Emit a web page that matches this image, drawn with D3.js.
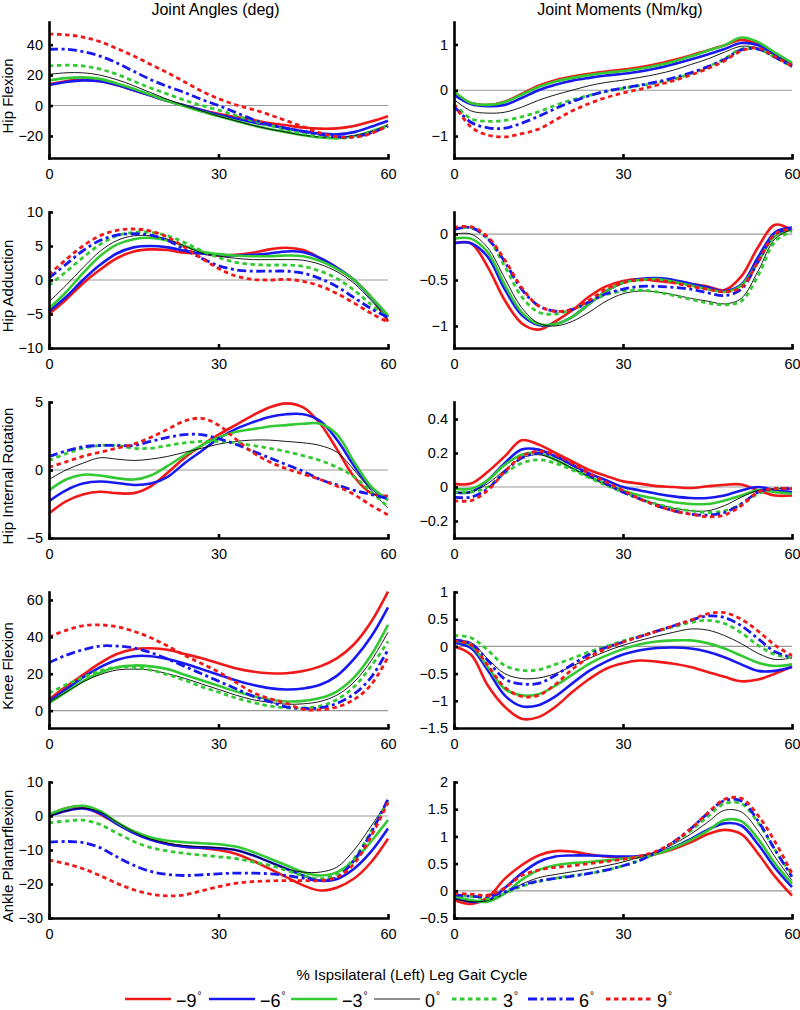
<!DOCTYPE html>
<html>
<head>
<meta charset="utf-8">
<script src="https://cdn.jsdelivr.net/npm/d3@7"></script>
<style>
  body { margin: 0; background: #fff; }
  text { font-family: "Liberation Sans", Arial, Helvetica, sans-serif; fill: #000; }
</style>
</head>
<body>
<div id="chart"></div>
<script>
// % of ipsilateral gait cycle where the curves were read
var pct = [0, 3, 6, 9, 12, 15, 18, 21, 24, 27, 30, 33, 36, 39, 42, 45, 48, 51, 54, 57, 60];

var conditions = ["\u22129", "\u22126", "\u22123", "0", "3", "6", "9"];
var rowNames = ["Hip Flexion", "Hip Adduction", "Hip Internal Rotation", "Knee Flexion", "Ankle Plantarflexion"];
var colTitles = ["Joint Angles (deg)", "Joint Moments (Nm/kg)"];
var xLabel = "% Ispsilateral (Left) Leg Gait Cycle";

var xTicks = [0, 30, 60];
var angleTicks = [[-20, 0, 20, 40], [-10, -5, 0, 5, 10], [-5, 0, 5], [0, 20, 40, 60], [-30, -20, -10, 0, 10]];
var momentTicks = [[-1, 0, 1], [-1, -0.5, 0], [-0.2, 0, 0.2, 0.4], [-1.5, -1, -0.5, 0, 0.5, 1], [-0.5, 0, 0.5, 1, 1.5, 2]];
var angleLimits = [[-34.5, 54.9], [-10, 10], [-5, 5], [-9.4, 64.3], [-30, 10]];
var momentLimits = [[-1.48, 1.49], [-1.24, 0.24], [-0.3, 0.5], [-1.5, 1], [-0.5, 2]];

// each panel: one row per condition, -9 .. 9
var hipFlexAngle = [
  [14, 16, 17, 16, 13.5, 10, 6.5, 3, 0, -3, -5.5, -7.5, -9.5, -11.5, -13, -14.5, -15.2, -15, -13.5, -10.5, -7],
  [13.5, 15.5, 16.5, 16, 13.5, 10, 6.5, 3, 0, -3, -6, -8.5, -11, -13, -15, -17, -18.5, -19, -17.5, -14, -10],
  [16.5, 18, 18.5, 17.5, 14.5, 11, 7, 3, -0.5, -4, -7, -10, -13, -15.5, -17.5, -19.5, -21, -21.5, -20, -17, -13],
  [20.5, 21.5, 21.5, 20, 17, 13, 8.5, 4, 0, -3.5, -7, -10, -13, -15.5, -17.5, -19.5, -20.8, -21, -19.8, -17, -13],
  [26, 26.5, 26, 24, 20.5, 16, 11.5, 7.5, 3.5, 0, -3, -6.5, -10, -13, -16, -18.5, -20.5, -21.5, -20.5, -17.5, -13.5],
  [37, 37, 35.5, 32.5, 28, 22.5, 17, 12.5, 8.5, 4, 0, -4.5, -9, -12.5, -15, -17, -19, -20.5, -20.5, -18, -13.5],
  [47, 46.5, 45, 42, 37.5, 32.5, 27, 21.5, 15.5, 9.5, 4.5, 0.5, -2.5, -6, -10, -14, -18, -20.5, -20.8, -18.5, -13]
];
var hipFlexMoment = [
  [-0.05, -0.28, -0.32, -0.25, -0.08, 0.1, 0.22, 0.3, 0.36, 0.41, 0.45, 0.5, 0.57, 0.66, 0.76, 0.87, 0.98, 1.1, 1.0, 0.8, 0.58],
  [-0.1, -0.3, -0.35, -0.32, -0.17, 0.0, 0.12, 0.21, 0.27, 0.32, 0.36, 0.41, 0.48, 0.57, 0.67, 0.78, 0.9, 1.03, 0.98, 0.78, 0.55],
  [-0.02, -0.28, -0.32, -0.26, -0.1, 0.07, 0.19, 0.27, 0.33, 0.38, 0.42, 0.47, 0.54, 0.63, 0.74, 0.86, 0.98, 1.15, 1.05, 0.82, 0.6],
  [-0.2, -0.45, -0.5, -0.48, -0.37, -0.22, -0.1, 0.0, 0.1, 0.17, 0.22, 0.28, 0.35, 0.44, 0.56, 0.68, 0.83, 0.96, 0.92, 0.75, 0.55],
  [-0.3, -0.62, -0.68, -0.66, -0.58, -0.47, -0.33, -0.21, -0.11, -0.03, 0.04, 0.1, 0.16, 0.24, 0.36, 0.5, 0.69, 0.9, 0.9, 0.72, 0.52],
  [-0.35, -0.7, -0.82, -0.83, -0.72, -0.57, -0.4, -0.25, -0.12, -0.02, 0.05, 0.11, 0.18, 0.27, 0.38, 0.51, 0.67, 0.88, 0.9, 0.72, 0.52],
  [-0.3, -0.8, -0.98, -1.02, -0.95, -0.85, -0.65, -0.45, -0.29, -0.16, -0.06, 0.02, 0.11, 0.21, 0.33, 0.47, 0.64, 0.86, 0.92, 0.73, 0.53]
];
var hipAddAngle = [
  [-5, -2.9, -0.5, 1.5, 3.2, 4.2, 4.5, 4.4, 4.0, 3.9, 3.6, 3.7, 4.0, 4.5, 4.75, 4.4, 3.2, 1.7, 0, -2.5, -6.1],
  [-4.6, -2.5, 0, 2.2, 3.9, 4.8, 5.0, 4.8, 4.3, 3.9, 3.7, 3.6, 3.7, 3.9, 4.2, 4.1, 3.2, 1.8, 0, -2.6, -5.4],
  [-4.2, -1.8, 1.0, 3.5, 5.2, 6.0, 6.2, 5.8, 5.0, 4.2, 3.8, 3.6, 3.5, 3.5, 3.6, 3.5, 2.8, 1.6, 0, -2.5, -5.2],
  [-3.2, -0.8, 1.8, 4.2, 5.8, 6.5, 6.5, 6.0, 5.0, 4.0, 3.5, 3.2, 3.0, 3.0, 3.0, 2.9, 2.3, 1.2, -0.5, -3.0, -5.8],
  [-0.8, 1.2, 3.3, 5.2, 6.5, 7.0, 7.0, 6.5, 5.5, 4.3, 3.3, 2.6, 2.3, 2.2, 2.2, 2.0, 1.3, 0.2, -1.5, -3.6, -5.5],
  [0.3, 2.3, 4.3, 5.8, 6.6, 6.8, 6.6, 5.8, 4.5, 3.2, 2.1, 1.5, 1.3, 1.3, 1.3, 1.0, 0.2, -1.0, -2.6, -4.2, -5.5],
  [0.8, 3.0, 5.0, 6.5, 7.3, 7.5, 7.2, 6.3, 4.8, 3.2, 1.7, 0.6, 0.1, 0.0, 0.1, -0.2, -0.9, -2.0, -3.4, -4.9, -6.2]
];
var hipAddMoment = [
  [-0.1, -0.1, -0.36, -0.72, -0.97, -1.04, -0.95, -0.83, -0.68, -0.57, -0.51, -0.49, -0.51, -0.53, -0.54, -0.57, -0.61, -0.46, -0.14, 0.1, 0.04],
  [-0.1, -0.1, -0.25, -0.6, -0.88, -0.99, -0.98, -0.9, -0.76, -0.62, -0.53, -0.49, -0.48, -0.5, -0.54, -0.58, -0.62, -0.55, -0.25, 0.02, 0.07],
  [-0.05, -0.05, -0.2, -0.55, -0.85, -0.98, -0.98, -0.9, -0.76, -0.62, -0.53, -0.5, -0.49, -0.52, -0.56, -0.6, -0.63, -0.56, -0.3, -0.02, 0.05],
  [0, 0, -0.15, -0.48, -0.8, -0.97, -1.0, -0.95, -0.85, -0.73, -0.65, -0.62, -0.63, -0.66, -0.7, -0.73, -0.76, -0.7, -0.4, -0.05, 0.05],
  [0.05, 0.07, -0.05, -0.35, -0.68, -0.85, -0.87, -0.82, -0.74, -0.66, -0.62, -0.61, -0.63, -0.67, -0.71, -0.75, -0.77, -0.73, -0.45, -0.08, 0.03],
  [0.05, 0.07, -0.05, -0.3, -0.6, -0.78, -0.84, -0.82, -0.74, -0.65, -0.6, -0.57, -0.57, -0.58, -0.6, -0.64, -0.67, -0.6, -0.3, 0.0, 0.06],
  [0.07, 0.08, -0.03, -0.28, -0.58, -0.78, -0.84, -0.82, -0.72, -0.6, -0.53, -0.5, -0.5, -0.53, -0.57, -0.6, -0.63, -0.58, -0.3, 0.0, 0.06]
];
var hipRotAngle = [
  [-3.2, -2.3, -1.8, -1.6, -1.7, -1.7, -1.2, -0.2, 0.9, 1.8, 2.6, 3.3, 4.0, 4.6, 4.9, 4.6, 3.4, 1.5, -0.5, -1.7, -1.9],
  [-2.3, -1.5, -1.0, -0.85, -0.95, -1.1, -1.0, -0.5, 0.5, 1.4, 2.3, 3.0, 3.5, 3.9, 4.1, 4.1, 3.6, 2.2, 0.3, -1.3, -2.2],
  [-1.5, -0.7, -0.35, -0.4, -0.6, -0.7, -0.4, 0.3, 1.1, 1.8, 2.4, 2.8, 3.0, 3.2, 3.3, 3.4, 3.4, 2.6, 0.6, -1.2, -2.2],
  [-0.7, 0.0, 0.5, 0.9, 0.8, 0.7, 0.8, 1.0, 1.3, 1.6, 1.9, 2.1, 2.2, 2.2, 2.1, 2.0, 1.8, 1.3, 0.0, -1.5, -2.8],
  [0.7, 1.2, 1.6, 1.8, 1.8, 1.6, 1.6, 1.8, 2.0, 2.1, 2.1, 2.0, 1.8, 1.6, 1.35, 1.05, 0.7, 0.2, -0.5, -1.6, -2.7],
  [1.0, 1.4, 1.7, 1.8, 1.8, 1.8, 2.1, 2.4, 2.6, 2.6, 2.3, 1.9, 1.4, 0.9, 0.4, -0.1, -0.7, -1.1, -1.5, -1.8, -2.1],
  [0.2, 0.6, 1.0, 1.3, 1.6, 1.9, 2.4, 3.0, 3.6, 3.8, 3.3, 2.3, 1.3, 0.6, 0.1, -0.3, -0.7, -1.2, -1.8, -2.6, -3.3]
];
var hipRotMoment = [
  [0.02, 0.02, 0.09, 0.18, 0.275, 0.25, 0.2, 0.15, 0.1, 0.065, 0.033, 0.02, 0.005, 0.0, -0.006, 0.004, 0.013, 0.015, -0.02, -0.05, -0.05],
  [-0.03, -0.03, 0.04, 0.14, 0.22, 0.22, 0.18, 0.13, 0.08, 0.04, 0.0, -0.02, -0.04, -0.055, -0.065, -0.065, -0.05, -0.02, 0.0, -0.02, -0.03],
  [-0.01, -0.01, 0.04, 0.13, 0.19, 0.2, 0.16, 0.11, 0.06, 0.02, -0.02, -0.05, -0.07, -0.09, -0.1, -0.1, -0.08, -0.05, -0.02, -0.03, -0.04],
  [-0.03, -0.03, 0.02, 0.1, 0.17, 0.19, 0.16, 0.11, 0.06, 0.01, -0.03, -0.07, -0.1, -0.125, -0.14, -0.14, -0.11, -0.06, -0.02, -0.01, -0.01],
  [-0.03, -0.03, 0.0, 0.08, 0.14, 0.16, 0.14, 0.1, 0.055, 0.01, -0.03, -0.07, -0.1, -0.125, -0.14, -0.15, -0.14, -0.1, -0.04, -0.01, -0.01],
  [-0.06, -0.06, -0.01, 0.09, 0.17, 0.2, 0.18, 0.13, 0.07, 0.02, -0.03, -0.07, -0.11, -0.14, -0.16, -0.165, -0.15, -0.1, -0.03, -0.01, -0.01],
  [-0.08, -0.08, -0.02, 0.09, 0.18, 0.21, 0.19, 0.14, 0.08, 0.03, -0.02, -0.07, -0.11, -0.14, -0.16, -0.175, -0.165, -0.11, -0.03, -0.01, -0.01]
];
var kneeAngle = [
  [6, 13, 19.4, 25.7, 30.7, 33.3, 33.8, 33, 30.7, 28.4, 25.7, 23, 21.2, 20.3, 20.3, 21.5, 24, 28.5, 36, 48, 64.5],
  [5, 11.5, 18, 23.5, 27.5, 29.5, 29.5, 28, 25.5, 22.5, 19.5, 16.5, 14, 12.2, 11.5, 12, 14, 19, 28, 40, 56],
  [4, 10, 16, 20.5, 23.5, 24.5, 24, 22.5, 19.5, 16.5, 13.5, 10.5, 8, 6, 5, 5.3, 6.8, 10.5, 18, 30, 46.5],
  [4.5, 10, 15.5, 19.5, 22, 22.5, 22, 20, 17.5, 14.5, 11.5, 8.5, 6, 4.5, 3.5, 3.7, 5, 8.5, 15.5, 27, 42.5],
  [9.5, 14, 18, 21.5, 23.5, 23.5, 22, 19.5, 16.5, 13, 10, 7, 4.5, 2.5, 1.5, 1.5, 2.5, 6, 13, 24, 37.5],
  [26, 30, 33, 35, 35, 34, 31.5, 28, 24, 20, 16, 12, 8, 5, 2, 1.2, 1.5, 4, 9, 18, 33],
  [40, 43.5, 46, 46.5, 45.5, 43, 39.5, 35, 30, 25.5, 21, 15.5, 10, 6.5, 4, 0.7, 0.5, 2, 6, 14, 29]
];
var kneeMoment = [
  [0, -0.15, -0.72, -1.11, -1.33, -1.3, -1.11, -0.84, -0.6, -0.41, -0.31, -0.26, -0.28, -0.32, -0.38, -0.47, -0.56, -0.64, -0.61, -0.5, -0.37],
  [0.07, -0.03, -0.44, -0.9, -1.1, -1.08, -0.92, -0.68, -0.45, -0.28, -0.15, -0.07, -0.03, -0.02, -0.04, -0.1, -0.2, -0.33, -0.45, -0.45, -0.38],
  [0.1, 0.02, -0.38, -0.78, -0.9, -0.88, -0.72, -0.52, -0.32, -0.17, -0.05, 0.04, 0.09, 0.11, 0.11, 0.06, -0.04, -0.17, -0.3, -0.36, -0.33],
  [0.12, 0.07, -0.23, -0.5, -0.59, -0.58, -0.5, -0.36, -0.22, -0.09, 0.02, 0.11, 0.19, 0.26, 0.32, 0.3, 0.2, 0.05, -0.13, -0.24, -0.21],
  [0.2, 0.16, -0.07, -0.35, -0.44, -0.43, -0.33, -0.22, -0.1, 0.0, 0.1, 0.19, 0.28, 0.36, 0.44, 0.48, 0.42, 0.25, 0.02, -0.15, -0.21],
  [0.12, 0.05, -0.26, -0.6, -0.69, -0.68, -0.53, -0.33, -0.15, -0.02, 0.08, 0.18, 0.28, 0.38, 0.48, 0.56, 0.53, 0.38, 0.14, -0.1, -0.2],
  [0.1, 0.03, -0.35, -0.75, -0.92, -0.9, -0.7, -0.42, -0.2, -0.04, 0.08, 0.18, 0.28, 0.38, 0.48, 0.6, 0.62, 0.5, 0.28, 0.02, -0.17]
];
var ankleAngle = [
  [0.3, 2.3, 2.6, 0.6, -2.3, -4.8, -6.7, -8.2, -9, -9.4, -10, -11.1, -13.1, -15.5, -18, -20.4, -21.9, -21, -18.4, -13.6, -6.7],
  [0, 1.5, 2.2, 0.8, -2.3, -5, -7, -8.3, -9, -9.3, -9.5, -10, -11.5, -13.5, -15.5, -17.5, -19, -18.5, -15.5, -10.5, -3.7],
  [0.5, 2.3, 3, 1.5, -1.8, -4.5, -6.3, -7.3, -7.7, -8, -8.3, -9, -10.5, -12.5, -14.5, -16.5, -17.5, -16.5, -13, -7.5, -1.2],
  [0, 1.5, 2.3, 1.2, -1.8, -4.7, -6.8, -8, -8.7, -9, -9.3, -10, -11.5, -13.5, -15.5, -16.5, -16.5, -15, -10, -3, 4.5],
  [-2, -1.5, -1.2, -2.5, -5, -7.5, -9.3, -10.3, -11, -11.5, -12, -12.5, -13.5, -14.5, -16, -17.5, -18.5, -17, -12.5, -4.5, 4.5],
  [-7.7, -7.5, -7.8, -9.3, -12, -14.5, -16.3, -17.2, -17.5, -17.3, -17, -16.8, -16.8, -17, -17.5, -18.3, -19, -18, -13, -5, 5],
  [-13, -14, -15.5, -17.5, -19.8, -21.7, -23, -23.5, -23.2, -22, -20.8, -19.8, -19.3, -19.1, -19, -19, -19, -18, -14, -6, 4]
];
var ankleMoment = [
  [-0.17, -0.24, -0.12, 0.22, 0.47, 0.65, 0.73, 0.72, 0.67, 0.63, 0.62, 0.62, 0.68, 0.77, 0.89, 1.04, 1.12, 1.04, 0.68, 0.26, -0.09],
  [-0.12, -0.2, -0.18, 0.05, 0.32, 0.53, 0.63, 0.65, 0.65, 0.64, 0.63, 0.64, 0.7, 0.8, 0.95, 1.12, 1.24, 1.2, 0.85, 0.42, 0.07],
  [-0.1, -0.17, -0.2, -0.05, 0.2, 0.38, 0.47, 0.51, 0.53, 0.56, 0.59, 0.62, 0.68, 0.79, 0.93, 1.1, 1.3, 1.28, 0.95, 0.5, 0.13],
  [-0.15, -0.2, -0.18, -0.05, 0.12, 0.24, 0.3, 0.35, 0.4, 0.46, 0.53, 0.62, 0.72, 0.86, 1.04, 1.26, 1.48, 1.45, 1.1, 0.62, 0.19],
  [-0.07, -0.1, -0.15, -0.05, 0.08, 0.17, 0.23, 0.28, 0.32, 0.38, 0.46, 0.56, 0.7, 0.88, 1.1, 1.36, 1.6, 1.6, 1.25, 0.75, 0.29],
  [-0.07, -0.1, -0.1, -0.02, 0.1, 0.18, 0.23, 0.27, 0.32, 0.38, 0.46, 0.56, 0.71, 0.9, 1.14, 1.42, 1.66, 1.65, 1.28, 0.75, 0.26],
  [-0.05, -0.06, -0.08, 0.05, 0.28, 0.38, 0.43, 0.46, 0.5, 0.54, 0.58, 0.64, 0.73, 0.9, 1.14, 1.43, 1.68, 1.7, 1.38, 0.9, 0.32]
];

var angles = [hipFlexAngle, hipAddAngle, hipRotAngle, kneeAngle, ankleAngle];
var moments = [hipFlexMoment, hipAddMoment, hipRotMoment, kneeMoment, ankleMoment];

// line look for each condition
var colors = ["#f01818", "#1818f0", "#33c933", "#000000", "#33c933", "#1818f0", "#f01818"];
var widths = [2.6, 2.6, 2.6, 0.9, 2.8, 2.8, 2.8];
var dashes = [null, null, null, null, "4.5,3.5", "9,3.5,3,3.5", "4.5,3.5"];

var W = 800, H = 1010;
var colX = [49, 454], plotW = [339, 338];
var rowTop = 22, rowStep = 190, plotH = 136;

var svg = d3.select("#chart").append("svg")
    .attr("width", W)
    .attr("height", H);

function fmt(d) { return (d < 0 ? "\u2212" : "") + Math.abs(d); }

var x = [0, 1].map(function (c) {
  return d3.scaleLinear().domain([0, 60]).range([0, plotW[c]]);
});

function drawPanel(r, c, series, limits, ticks) {
  var g = svg.append("g")
    .attr("transform", "translate(" + colX[c] + "," + (rowTop + r * rowStep) + ")");
  var y = d3.scaleLinear().domain(limits).range([plotH, 0]);

  // zero reference line
  g.append("line")
    .attr("x1", x[c](0)).attr("x2", x[c](60))
    .attr("y1", y(0)).attr("y2", y(0))
    .attr("stroke", "#999").attr("stroke-width", 1.2);

  var line = d3.line()
    .x(function (d, i) { return x[c](pct[i]); })
    .y(function (d) { return y(d); })
    .curve(d3.curveCatmullRom);

  g.selectAll("path.cond")
    .data(series)
    .enter()
    .append("path")
      .attr("class", "cond")
      .attr("d", line)
      .attr("fill", "none")
      .attr("stroke", function (d, i) { return colors[i]; })
      .attr("stroke-width", function (d, i) { return widths[i]; })
      .attr("stroke-dasharray", function (d, i) { return dashes[i]; });

  var xa = g.append("g")
    .attr("transform", "translate(0," + plotH + ")")
    .call(d3.axisBottom(x[c]).tickValues(xTicks).tickSizeInner(-4).tickSizeOuter(0).tickPadding(11).tickFormat(fmt));
  var ya = g.append("g")
    .call(d3.axisLeft(y).tickValues(ticks).tickSizeInner(-4).tickSizeOuter(0).tickPadding(6).tickFormat(fmt));

  [xa, ya].forEach(function (a) {
    a.select(".domain").attr("stroke", "#000").attr("stroke-width", 2.6).attr("stroke-linecap", "square");
    a.selectAll(".tick line").attr("stroke", "#000").attr("stroke-width", 2.6);
    a.selectAll(".tick text").style("font-size", "14.5px").attr("fill", "#000");
  });

  if (c === 0) {
    g.append("text")
      .attr("transform", "translate(" + (13 - colX[0]) + "," + (plotH / 2 + 6) + ") rotate(-90)")
      .style("text-anchor", "middle")
      .style("font-size", "15px")
      .text(rowNames[r]);
  }
}

for (var r = 0; r < rowNames.length; r++) {
  drawPanel(r, 0, angles[r], angleLimits[r], angleTicks[r]);
  drawPanel(r, 1, moments[r], momentLimits[r], momentTicks[r]);
}

// column titles
colTitles.forEach(function (t, c) {
  svg.append("text")
    .attr("x", colX[c] + plotW[c] / 2 - 3)
    .attr("y", 15)
    .style("text-anchor", "middle")
    .style("font-size", "16px")
    .text(t);
});

// shared x label
svg.append("text")
  .attr("x", 412)
  .attr("y", 980)
  .style("text-anchor", "middle")
  .style("font-size", "15px")
  .text(xLabel);

// legend
var legX = [125, 209, 291, 374, 452, 528, 606];
var legY = 999;
var leg = svg.append("g").selectAll("g")
  .data(conditions)
  .enter()
  .append("g")
    .attr("transform", function (d, i) { return "translate(" + legX[i] + "," + legY + ")"; });

leg.append("line")
  .attr("x1", 0).attr("x2", 46)
  .attr("stroke", function (d, i) { return colors[i]; })
  .attr("stroke-width", function (d, i) { return widths[i]; })
  .attr("stroke-dasharray", function (d, i) { return dashes[i]; });

var lt = leg.append("text")
  .attr("x", 51)
  .attr("y", 8)
  .style("font-size", "18px");
lt.append("tspan").text(function (d) { return d; });
lt.append("tspan")
  .attr("dx", 1)
  .attr("dy", -8)
  .style("font-size", "10px")
  .text("\u00b0");
</script>
</body>
</html>
